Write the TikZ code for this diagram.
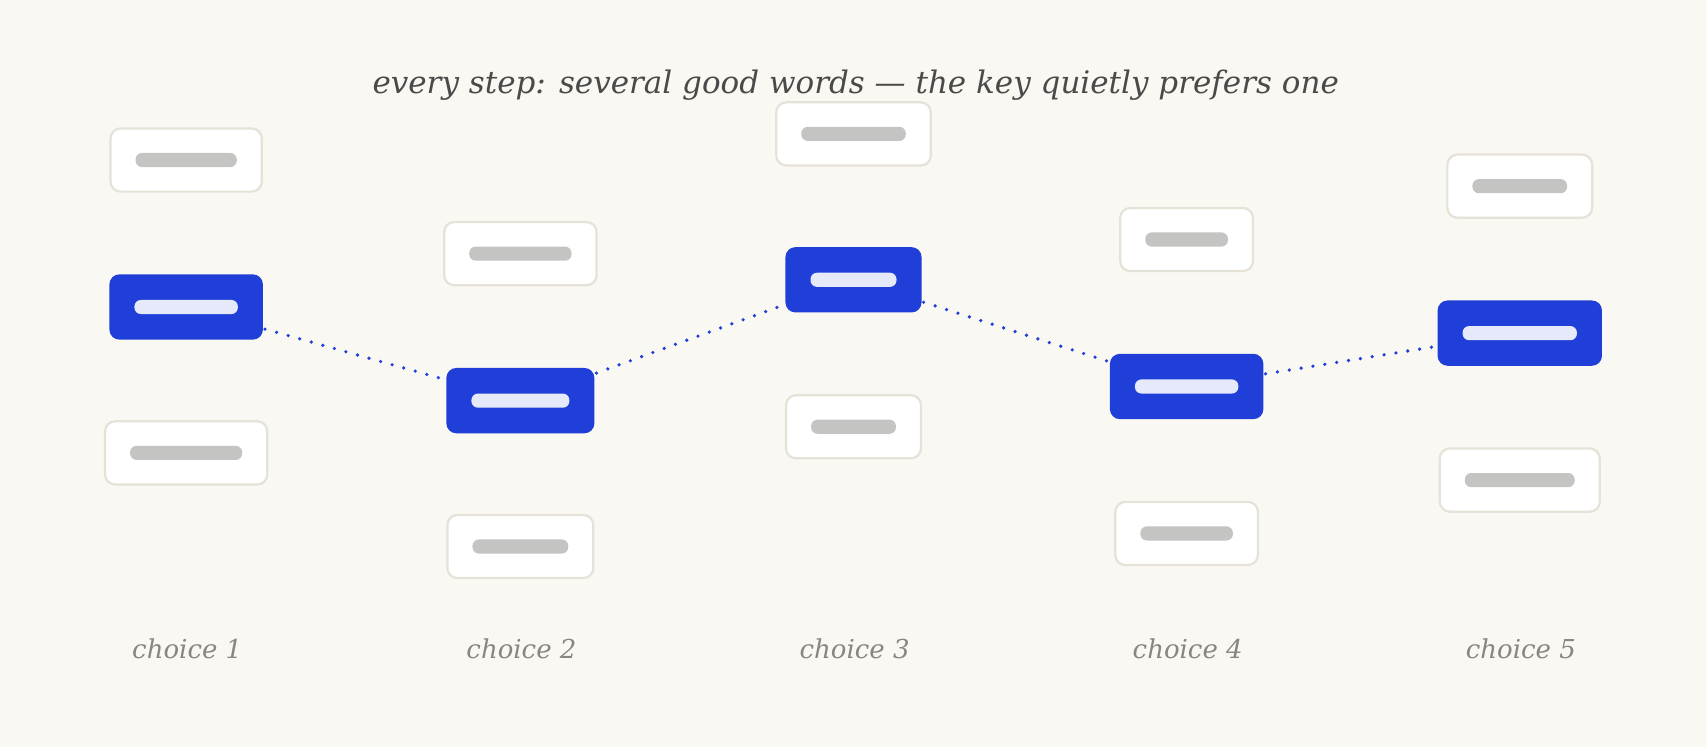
\documentclass[tikz,border=0pt]{standalone}
\usepackage{fontspec}
\setmainfont{DejaVu Serif}
\definecolor{bg}{HTML}{FAF8F2}
\definecolor{blu}{HTML}{1F3FD8}
\definecolor{lbar}{HTML}{E6E9FA}
\definecolor{gbar}{HTML}{C4C4C2}
\definecolor{bord}{HTML}{E5E2D8}
\definecolor{ttl}{HTML}{4A4A4A}
\definecolor{lbl}{HTML}{888680}
\newcommand\K{1.0887}
\tikzset{
  opt/.style={draw=bord,line width=2.2pt,fill=white,rounded corners=10pt,minimum height={58*\K pt},inner sep=0pt},
  sel/.style={fill=blu,rounded corners=10pt,minimum height={60*\K pt},inner sep=0pt},
  gb/.style={fill=gbar,rounded corners=6.5pt,minimum height={13*\K pt},inner sep=0pt},
  lb/.style={fill=lbar,rounded corners=6.5pt,minimum height={13*\K pt},inner sep=0pt},
  link/.style={blu,line width=3.6pt,line cap=round,dash pattern=on 0pt off 12pt,shorten >=2pt,shorten <=2pt},
  lab/.style={lbl,font=\fontsize{26}{30}\selectfont\itshape},
}
\newcommand\opt[5]{% name x y w style
  \node[#5,minimum width={#4*\K pt}] (#1) at (#2,#3) {};
}
\begin{document}
\begin{tikzpicture}[x=1.0887pt,y=-1.0887pt]
\fill[bg] (0,0) rectangle (1568,686);
\useasboundingbox (0,0) rectangle (1568,686);
\node[ttl,font=\fontsize{31}{36}\selectfont\itshape] (title) at (786,78) {every step: several good words — the key quietly prefers one};
% column 1
\foreach \n/\x/\y/\w/\s/\b in {a1/171/147/139/opt/gb, c1/171/416/149/opt/gb,
  a2/478/233/140/opt/gb, c2/478/502/134/opt/gb,
  a3/784/123/142/opt/gb, c3/784/392/124/opt/gb,
  a4/1090/220/122/opt/gb, c4/1090/490/131/opt/gb,
  a5/1396/171/133/opt/gb, c5/1396/441/147/opt/gb,
  b1/171/282/141/sel/lb, b2/478/368/136/sel/lb, b3/784/257/125/sel/lb,
  b4/1090/355/141/sel/lb, b5/1396/306/151/sel/lb}{
  \node[\s,minimum width={\w*\K pt}] (\n) at (\x,\y) {};
  \node[\b,minimum width={(\w-46)*\K pt}] (\n bar) at (\n) {};
}
\draw[link] (b1) -- (b2);
\draw[link] (b2) -- (b3);
\draw[link] (b3) -- (b4);
\draw[link] (b4) -- (b5);
\node[lab] (l1) at (172,596) {choice 1};
\node[lab] (l2) at (479,596) {choice 2};
\node[lab] (l3) at (785,596) {choice 3};
\node[lab] (l4) at (1091,596) {choice 4};
\node[lab] (l5) at (1397,596) {choice 5};
\end{tikzpicture}
\end{document}
